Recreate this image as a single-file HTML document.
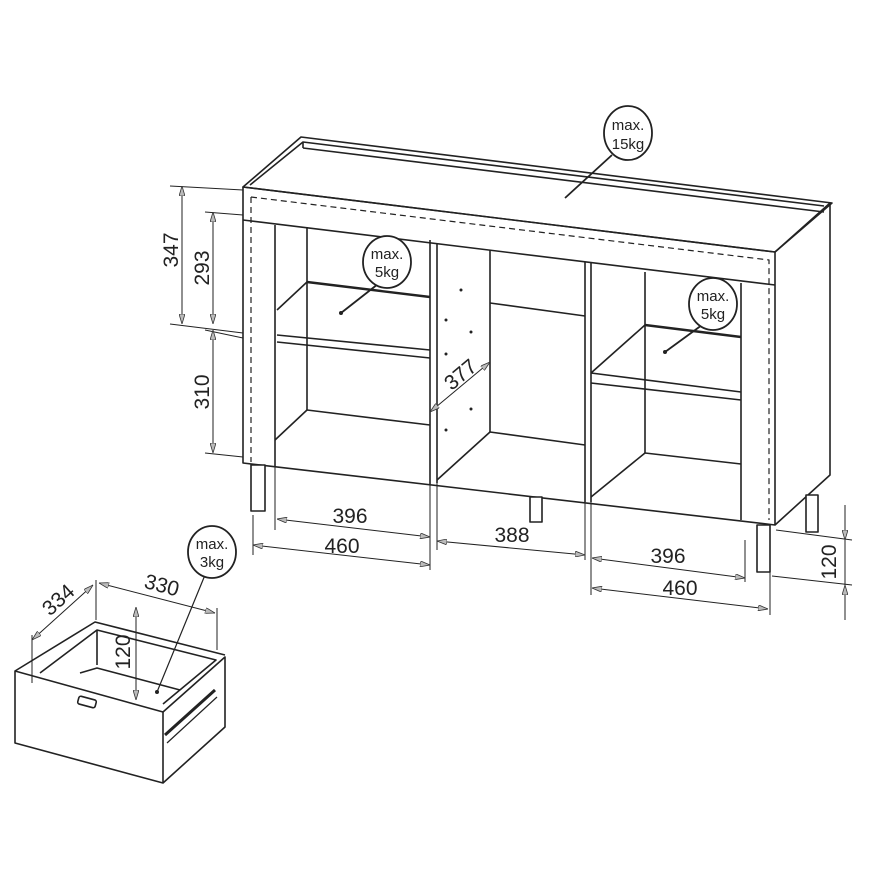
<!DOCTYPE html>
<html><head><meta charset="utf-8"><style>
html,body{margin:0;padding:0;background:#fff}
svg{display:block}
text{font-family:"Liberation Sans",sans-serif;fill:#222}
</style></head><body>
<svg width="870" height="870" viewBox="0 0 870 870" xmlns="http://www.w3.org/2000/svg">
<defs>
<marker id="a" viewBox="0 0 10 6" refX="10" refY="3" markerWidth="10" markerHeight="6" orient="auto-start-reverse" markerUnits="userSpaceOnUse"><path d="M0,0 L10,3 L0,6 Z" fill="#bbb" stroke="#333" stroke-width="0.8"/></marker>
</defs>
<g fill="none" stroke="#222" stroke-width="1.6" stroke-linejoin="round">
<polygon points="243,187 301,137 832,203 775,252" fill="#fff"/>
<polyline points="250,185 303,142 824,206"/>
<line x1="303" y1="142" x2="303" y2="148"/>
<polyline points="303,148 824,212"/>
<polygon points="243,187 775,252 775,525 243,463"/>
<line x1="243" y1="220" x2="775" y2="285"/>
<polyline points="251,197 769,260 769,520" stroke-dasharray="6,4" stroke-width="1.2"/>
<line x1="251" y1="197" x2="251" y2="462" stroke-dasharray="6,4" stroke-width="1.2"/>
<polyline points="775,252 830,203 830,475 775,525"/>
<line x1="275" y1="225" x2="275" y2="466"/>
<line x1="307" y1="227" x2="307" y2="410"/>
<line x1="275" y1="440" x2="307" y2="410"/>
<line x1="307" y1="410" x2="430" y2="425"/>
<line x1="307" y1="282" x2="430" y2="297" stroke-width="2.4"/>
<line x1="277" y1="310" x2="307" y2="282"/>
<line x1="277" y1="335" x2="430" y2="350"/>
<line x1="277" y1="342" x2="430" y2="358"/>
<line x1="430" y1="240" x2="430" y2="484"/>
<line x1="437" y1="243" x2="437" y2="483"/>
<line x1="490" y1="250" x2="490" y2="432"/>
<line x1="437" y1="480" x2="490" y2="432"/>
<line x1="490" y1="303" x2="585" y2="316"/>
<line x1="490" y1="432" x2="585" y2="445"/>
<line x1="585" y1="262" x2="585" y2="502"/>
<line x1="591" y1="263" x2="591" y2="502"/>
<line x1="645" y1="272" x2="645" y2="453"/>
<line x1="741" y1="283" x2="741" y2="520"/>
<line x1="645" y1="325" x2="741" y2="337" stroke-width="2.4"/>
<line x1="591" y1="373" x2="645" y2="325"/>
<line x1="591" y1="373" x2="741" y2="392"/>
<line x1="591" y1="383" x2="741" y2="400"/>
<line x1="645" y1="453" x2="741" y2="464"/>
<line x1="591" y1="497" x2="645" y2="453"/>
<rect x="251" y="465" width="14" height="46" fill="#fff"/>
<rect x="530" y="497" width="12" height="25" fill="#fff"/>
<rect x="757" y="525" width="13" height="47" fill="#fff"/>
<rect x="806" y="495" width="12" height="37" fill="#fff"/>
</g>
<g fill="#222">
<circle cx="461" cy="290" r="1.5"/><circle cx="446" cy="320" r="1.5"/><circle cx="471" cy="332" r="1.5"/><circle cx="446" cy="354" r="1.5"/><circle cx="471" cy="409" r="1.5"/><circle cx="446" cy="430" r="1.5"/>
</g>
<g fill="none" stroke="#222" stroke-width="1">
<line x1="170" y1="186" x2="243" y2="190"/>
<line x1="170" y1="324" x2="243" y2="333"/>
<line x1="205" y1="212" x2="243" y2="215"/>
<line x1="205" y1="330" x2="243" y2="338"/>
<line x1="205" y1="453" x2="243" y2="457"/>
<line x1="182" y1="186" x2="182" y2="324" marker-start="url(#a)" marker-end="url(#a)"/>
<line x1="213" y1="212" x2="213" y2="324" marker-start="url(#a)" marker-end="url(#a)"/>
<line x1="213" y1="330" x2="213" y2="453" marker-start="url(#a)" marker-end="url(#a)"/>
<line x1="253" y1="515" x2="253" y2="555"/>
<line x1="275" y1="466" x2="275" y2="530"/>
<line x1="430" y1="484" x2="430" y2="570"/>
<line x1="437" y1="483" x2="437" y2="550"/>
<line x1="585" y1="502" x2="585" y2="560"/>
<line x1="591" y1="502" x2="591" y2="595"/>
<line x1="745" y1="540" x2="745" y2="582"/>
<line x1="770" y1="572" x2="770" y2="615"/>
<line x1="277" y1="519" x2="430" y2="537" marker-start="url(#a)" marker-end="url(#a)"/>
<line x1="253" y1="545" x2="430" y2="565" marker-start="url(#a)" marker-end="url(#a)"/>
<line x1="437" y1="541" x2="585" y2="555" marker-start="url(#a)" marker-end="url(#a)"/>
<line x1="592" y1="558" x2="745" y2="578" marker-start="url(#a)" marker-end="url(#a)"/>
<line x1="592" y1="588" x2="768" y2="609" marker-start="url(#a)" marker-end="url(#a)"/>
<line x1="776" y1="530" x2="852" y2="540"/>
<line x1="772" y1="576" x2="852" y2="585"/>
<line x1="845" y1="505" x2="845" y2="540" marker-end="url(#a)"/>
<line x1="845" y1="620" x2="845" y2="585" marker-end="url(#a)"/>
<line x1="845" y1="540" x2="845" y2="585"/>
<line x1="430" y1="412" x2="490" y2="362" marker-start="url(#a)" marker-end="url(#a)"/>
</g>
<g font-size="21">
<text x="350" y="523" text-anchor="middle">396</text>
<text x="342" y="553" text-anchor="middle">460</text>
<text x="512" y="542" text-anchor="middle">388</text>
<text x="668" y="563" text-anchor="middle">396</text>
<text x="680" y="595" text-anchor="middle">460</text>
<text transform="translate(178,250) rotate(-90)" text-anchor="middle">347</text>
<text transform="translate(209,268) rotate(-90)" text-anchor="middle">293</text>
<text transform="translate(209,392) rotate(-90)" text-anchor="middle">310</text>
<text transform="translate(836,562) rotate(-90)" text-anchor="middle">120</text>
<text transform="translate(465,380) rotate(-40)" text-anchor="middle">377</text>
</g>
<g fill="#fff" stroke="#222" stroke-width="1.8">
<line x1="612" y1="155" x2="565" y2="198"/>
<line x1="378" y1="284" x2="341" y2="313"/>
<line x1="702" y1="325" x2="665" y2="352"/>
<line x1="205" y1="575" x2="157" y2="692" stroke-width="1.2"/>
<ellipse cx="628" cy="133" rx="24" ry="27"/>
<ellipse cx="387" cy="262" rx="24" ry="26"/>
<ellipse cx="713" cy="304" rx="24" ry="26"/>
<ellipse cx="212" cy="552" rx="24" ry="26"/>
</g>
<g fill="#222"><circle cx="341" cy="313" r="2"/><circle cx="665" cy="352" r="2"/><circle cx="157" cy="692" r="2"/></g>
<g font-size="15" text-anchor="middle">
<text x="628" y="130">max.</text><text x="628" y="149">15kg</text>
<text x="387" y="259">max.</text><text x="387" y="277">5kg</text>
<text x="713" y="301">max.</text><text x="713" y="319">5kg</text>
<text x="212" y="549">max.</text><text x="212" y="567">3kg</text>
</g>
<g fill="none" stroke="#222" stroke-width="1.6" stroke-linejoin="round">
<polygon points="15,671 163,712 163,783 15,743" fill="#fff"/>
<polyline points="163,712 225,657 225,727 163,783"/>
<polyline points="15,671 95,622 225,655"/>
<polyline points="40,673 97,630 216,660 163,704"/>
<line x1="97" y1="630" x2="97" y2="665"/>
<polyline points="80,673 97,668 180,690"/>
<rect x="78" y="698" width="18" height="8" rx="2" transform="rotate(15 87 702)"/>
<line x1="165" y1="735" x2="215" y2="690" stroke-width="3"/>
<line x1="167" y1="743" x2="217" y2="697" stroke-width="1.2"/>
</g>
<g fill="none" stroke="#222" stroke-width="1">
<line x1="32" y1="635" x2="32" y2="683"/>
<line x1="96" y1="580" x2="96" y2="620"/>
<line x1="217" y1="608" x2="217" y2="650"/>
<line x1="32" y1="640" x2="93" y2="585" marker-start="url(#a)" marker-end="url(#a)"/>
<line x1="99" y1="583" x2="215" y2="613" marker-start="url(#a)" marker-end="url(#a)"/>
<line x1="136" y1="607" x2="136" y2="700" marker-start="url(#a)" marker-end="url(#a)"/>
</g>
<g font-size="21">
<text transform="translate(63,605) rotate(-42)" text-anchor="middle">334</text>
<text transform="translate(160,592) rotate(15)" text-anchor="middle">330</text>
<text transform="translate(130,652) rotate(-90)" text-anchor="middle">120</text>
</g>
</svg>
</body></html>
